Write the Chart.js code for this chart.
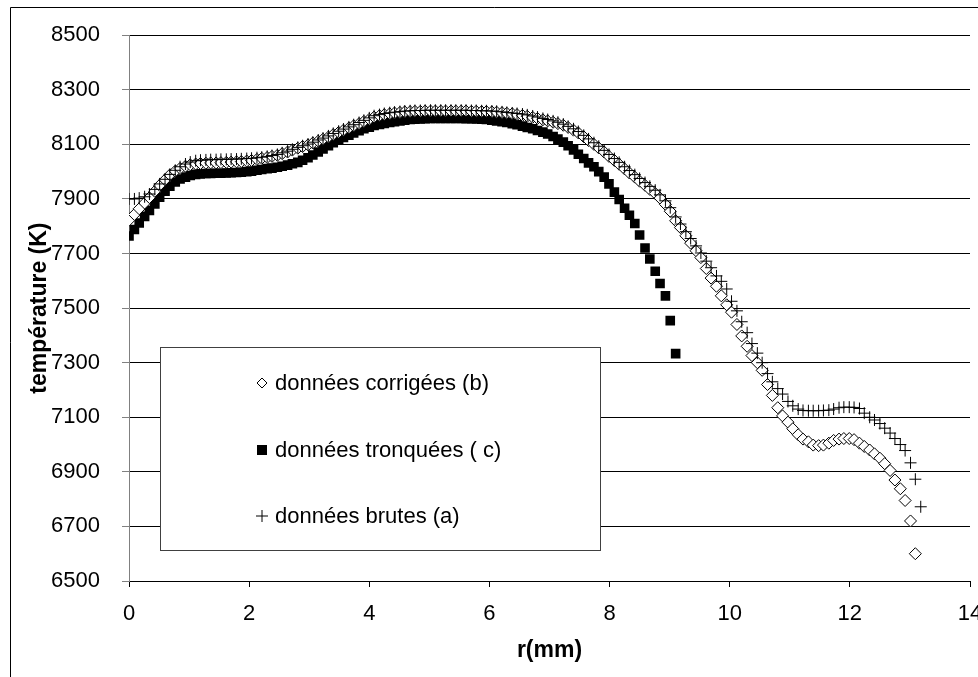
<!DOCTYPE html>
<html>
<head>
<meta charset="utf-8">
<script src="https://cdn.jsdelivr.net/npm/chart.js@4.4.0/dist/chart.umd.min.js"></script>
<style>
  html, body { margin: 0; padding: 0; background: #fff; }
  #wrap { width: 978px; height: 677px; }
</style>
</head>
<body>
<div id="wrap"><canvas id="tempChart" width="978" height="677"></canvas></div>
<script>
// r (mm)
const rMM = [
  0.00, 0.09, 0.17, 0.26, 0.34, 0.43, 0.51, 0.60, 0.68, 0.77,
  0.85, 0.94, 1.02, 1.11, 1.19, 1.28, 1.36, 1.45, 1.53, 1.62,
  1.70, 1.79, 1.87, 1.96, 2.04, 2.13, 2.21, 2.30, 2.38, 2.47,
  2.55, 2.64, 2.72, 2.81, 2.89, 2.98, 3.06, 3.15, 3.23, 3.32,
  3.40, 3.49, 3.57, 3.66, 3.74, 3.83, 3.91, 4.00, 4.08, 4.17,
  4.25, 4.34, 4.42, 4.51, 4.59, 4.68, 4.76, 4.85, 4.93, 5.02,
  5.10, 5.19, 5.27, 5.36, 5.44, 5.53, 5.61, 5.70, 5.78, 5.87,
  5.95, 6.04, 6.12, 6.21, 6.29, 6.38, 6.46, 6.55, 6.63, 6.72,
  6.80, 6.89, 6.97, 7.06, 7.14, 7.23, 7.31, 7.40, 7.48, 7.57,
  7.65, 7.74, 7.82, 7.91, 7.99, 8.08, 8.16, 8.25, 8.33, 8.42,
  8.50, 8.59, 8.67, 8.76, 8.84, 8.93, 9.01, 9.10, 9.18, 9.27,
  9.35, 9.44, 9.52, 9.61, 9.69, 9.78, 9.86, 9.95, 10.03, 10.12,
  10.20, 10.29, 10.37, 10.46, 10.54, 10.63, 10.71, 10.80, 10.88, 10.97,
  11.05, 11.14, 11.22, 11.31, 11.39, 11.48, 11.56, 11.65, 11.73, 11.82,
  11.90, 11.99, 12.07, 12.16, 12.24, 12.33, 12.41, 12.50, 12.58, 12.67,
  12.75, 12.84, 12.92, 13.01, 13.09, 13.18
];

// données corrigées (b) - K
const corrigees = [
  7822, 7843, 7864, 7885, 7905, 7928, 7950, 7970, 7988, 8002,
  8012, 8020, 8025, 8028, 8030, 8031, 8032, 8032, 8033, 8034,
  8035, 8036, 8037, 8039, 8041, 8045, 8049, 8052, 8056, 8060,
  8066, 8072, 8079, 8086, 8092, 8098, 8105, 8112, 8119, 8127,
  8136, 8144, 8152, 8160, 8168, 8176, 8184, 8192, 8200, 8205,
  8209, 8212, 8215, 8217, 8219, 8220, 8221, 8221, 8222, 8222,
  8222, 8222, 8222, 8222, 8222, 8222, 8222, 8221, 8221, 8220,
  8220, 8219, 8218, 8216, 8214, 8212, 8209, 8206, 8203, 8199,
  8195, 8190, 8186, 8181, 8176, 8170, 8162, 8152, 8142, 8128,
  8114, 8100, 8087, 8072, 8056, 8041, 8027, 8010, 7995, 7980,
  7965, 7950, 7935, 7920, 7903, 7880, 7855, 7820, 7795, 7765,
  7738, 7710, 7685, 7645, 7610, 7580, 7545, 7512, 7485, 7440,
  7398, 7360, 7326, 7300, 7272, 7220, 7180, 7135, 7105, 7082,
  7058, 7036, 7020, 7010, 6998, 6996, 6998, 7005, 7015, 7020,
  7022, 7022, 7018, 7005, 6993, 6980, 6966, 6950, 6930, 6905,
  6870, 6838, 6795, 6720, 6600, null
];

// données tronquées (c) - K
const tronquees = [
  7764, 7788, 7812, 7836, 7858, 7882, 7906, 7928, 7947, 7962,
  7973, 7980, 7986, 7990, 7992, 7993, 7993, 7994, 7994, 7995,
  7996, 7997, 7998, 8000, 8002, 8005, 8008, 8011, 8013, 8016,
  8020, 8024, 8029, 8034, 8042, 8051, 8061, 8072, 8083, 8095,
  8106, 8116, 8125, 8134, 8142, 8150, 8157, 8163, 8169, 8173,
  8177, 8180, 8183, 8186, 8189, 8191, 8192, 8193, 8194, 8195,
  8195, 8195, 8195, 8195, 8195, 8195, 8194, 8194, 8193, 8192,
  8191, 8189, 8186, 8183, 8180, 8176, 8172, 8167, 8162, 8157,
  8151, 8145, 8138, 8129, 8119, 8108, 8095, 8080, 8064, 8048,
  8032, 8018, 8000, 7980, 7955, 7925, 7898, 7866, 7840, 7810,
  7768, 7720, 7680, 7635, 7590, 7545, 7454, 7333
];

// données brutes (a) - K
const brutes = [
  7900, 7900, 7903, 7908, 7918, 7935, 7955, 7972, 7990, 8005,
  8018, 8028, 8035, 8040, 8042, 8043, 8044, 8044, 8045, 8045,
  8046, 8046, 8047, 8048, 8049, 8051, 8053, 8056, 8059, 8063,
  8069, 8075, 8082, 8089, 8095, 8101, 8108, 8116, 8123, 8131,
  8140, 8148, 8156, 8164, 8172, 8180, 8188, 8197, 8205, 8209,
  8213, 8216, 8218, 8220, 8222, 8223, 8224, 8224, 8225, 8225,
  8225, 8225, 8225, 8225, 8225, 8225, 8225, 8224, 8224, 8223,
  8223, 8222, 8221, 8219, 8217, 8215, 8213, 8211, 8208, 8204,
  8200, 8195, 8191, 8186, 8181, 8174, 8166, 8157, 8147, 8133,
  8120, 8106, 8093, 8078, 8063, 8048, 8034, 8018, 8004, 7989,
  7975, 7960, 7946, 7932, 7915, 7893, 7868, 7834, 7808, 7780,
  7755, 7728, 7702, 7672, 7648, 7618, 7598, 7570, 7525, 7490,
  7450, 7410, 7370, 7335, 7300, 7260, 7230, 7205, 7185, 7158,
  7142, 7130, 7125, 7124, 7124, 7124, 7125, 7126, 7130, 7135,
  7137, 7137, 7136, 7132, 7115, 7100, 7090, 7077, 7060, 7042,
  7022, 7000, 6978, 6933, 6873, 6772
];

const xMin = 0, xMax = 14, xStep = 2;
const yMin = 6500, yMax = 8500, yStep = 200;

const FONT = "'Liberation Sans', Arial, sans-serif";
Chart.defaults.font.family = FONT;
Chart.defaults.color = '#000';

function toPoints(values) {
    return rMM.map((r, i) => ({ x: r, y: values[i] }))
              .filter(p => p.y !== null && p.y !== undefined);
}

// frame around the whole chart + white background
const framePlugin = {
    id: 'frame',
    beforeDraw(chart) {
        const ctx = chart.ctx;
        ctx.save();
        ctx.fillStyle = '#fff';
        ctx.fillRect(0, 0, chart.width, chart.height);
        ctx.strokeStyle = '#000';
        ctx.lineWidth = 1;
        ctx.beginPath();
        ctx.moveTo(10.5, chart.height + 2);
        ctx.lineTo(10.5, 7.5);
        ctx.lineTo(chart.width + 2, 7.5);
        ctx.stroke();
        ctx.restore();
    }
};

function drawMarker(ctx, style, x, y) {
    ctx.save();
    ctx.lineWidth = 1;
    ctx.strokeStyle = '#000';
    if (style === 'rectRot') {
        const s = 5;
        ctx.fillStyle = '#fff';
        ctx.beginPath();
        ctx.moveTo(x, y - s); ctx.lineTo(x + s, y); ctx.lineTo(x, y + s); ctx.lineTo(x - s, y);
        ctx.closePath();
        ctx.fill(); ctx.stroke();
    } else if (style === 'rect') {
        ctx.fillStyle = '#000';
        ctx.fillRect(x - 5, y - 5, 10, 10);
    } else {
        ctx.beginPath();
        ctx.moveTo(x - 6, y); ctx.lineTo(x + 6, y);
        ctx.moveTo(x, y - 6); ctx.lineTo(x, y + 6);
        ctx.stroke();
    }
    ctx.restore();
}

// legend box inside the plot, like the original
const boxLegend = {
    id: 'boxLegend',
    afterDraw(chart) {
        const ctx = chart.ctx;
        ctx.save();
        ctx.fillStyle = '#fff';
        ctx.fillRect(160, 347, 440, 203);
        ctx.strokeStyle = '#404040';
        ctx.lineWidth = 1;
        ctx.strokeRect(160.5, 347.5, 440, 203);
        const rows = [383, 450, 516];
        const ds = chart.data.datasets;
        ctx.font = '22px ' + FONT;
        ctx.textBaseline = 'middle';
        ds.forEach((d, i) => {
            drawMarker(ctx, d.pointStyle, 262, rows[i]);
            ctx.fillStyle = '#000';
            ctx.fillText(d.label, 275, rows[i] + 1);
        });
        ctx.restore();
    }
};

const ctx = document.getElementById('tempChart').getContext('2d');

new Chart(ctx, {
    type: 'scatter',
    data: {
        datasets: [
            {
                label: 'données corrigées (b)',
                data: toPoints(corrigees),
                pointStyle: 'rectRot',
                pointRadius: 6,
                backgroundColor: '#fff',
                borderColor: '#000',
                borderWidth: 1,
                order: 2
            },
            {
                label: 'données tronquées ( c)',
                data: toPoints(tronquees),
                pointStyle: 'rect',
                pointRadius: 6.8,
                backgroundColor: '#000',
                borderColor: '#000',
                borderWidth: 0,
                order: 3
            },
            {
                label: 'données brutes (a)',
                data: toPoints(brutes),
                pointStyle: 'cross',
                pointRadius: 6,
                backgroundColor: '#000',
                borderColor: '#000',
                borderWidth: 1,
                order: 1
            }
        ]
    },
    options: {
        responsive: false,
        animation: false,
        events: [],
        layout: {
            padding: { left: 0, top: 33, right: 8, bottom: 0 }
        },
        plugins: {
            legend: { display: false },
            tooltip: { enabled: false }
        },
        scales: {
            x: {
                type: 'linear',
                min: xMin,
                max: xMax,
                afterFit: scale => {
                    scale.height = 96;
                    scale.paddingLeft = 0;
                    scale.paddingRight = 0;
                },
                ticks: {
                    stepSize: xStep,
                    padding: 14,
                    color: '#000',
                    font: { size: 22 },
                    callback: value => String(value)
                },
                grid: {
                    drawOnChartArea: false,
                    drawTicks: true,
                    tickLength: 6,
                    color: '#000'
                },
                border: { color: '#000', width: 1 },
                title: {
                    display: true,
                    text: 'r(mm)',
                    color: '#000',
                    font: { size: 23, weight: 'bold' },
                    padding: { top: 0, bottom: 13 }
                }
            },
            y: {
                min: yMin,
                max: yMax,
                afterFit: scale => {
                    scale.width = 129;
                },
                ticks: {
                    stepSize: yStep,
                    padding: 22,
                    color: '#000',
                    font: { size: 22 },
                    callback: value => String(value)
                },
                grid: {
                    color: '#000',
                    tickColor: '#808080',
                    tickLength: 7,
                    lineWidth: 1
                },
                border: { color: '#808080', width: 1 },
                title: {
                    display: true,
                    text: 'température (K)',
                    color: '#000',
                    font: { size: 23, weight: 'bold' },
                    padding: { top: 26, bottom: 0 }
                }
            }
        }
    },
    plugins: [framePlugin, boxLegend]
});
</script>
</body>
</html>
